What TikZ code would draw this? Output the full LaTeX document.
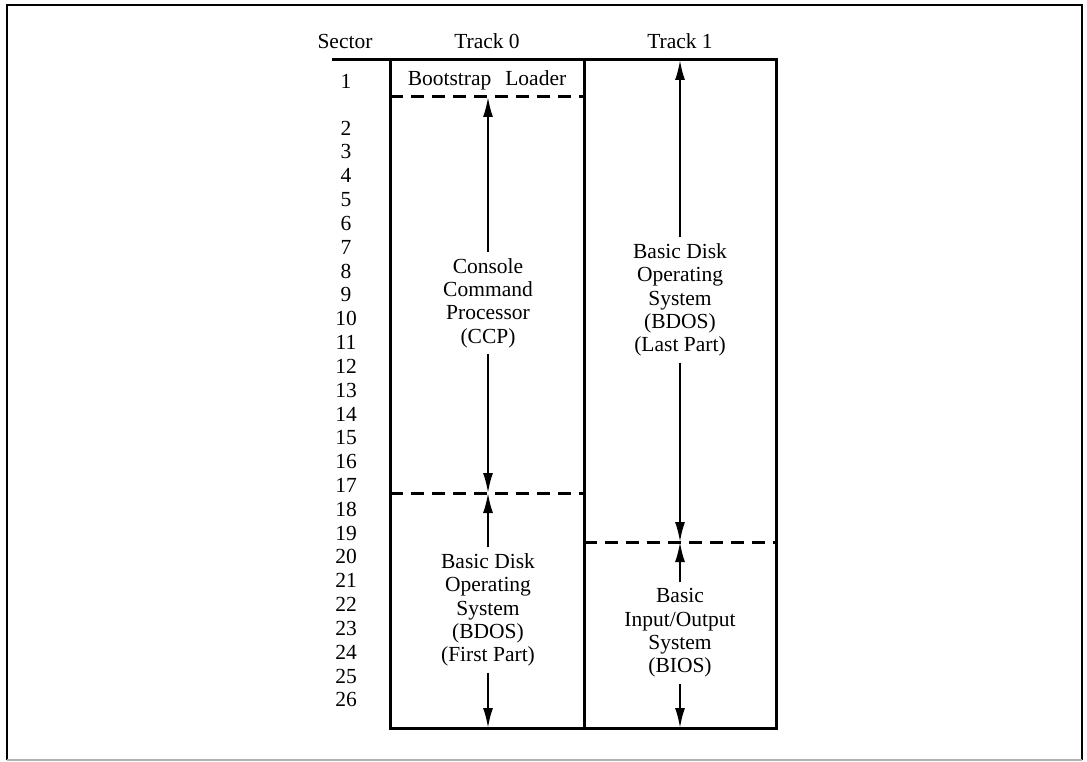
\documentclass[tikz,border=0pt]{standalone}
\usepackage{fontspec}
\setmainfont{Liberation Serif}
\usetikzlibrary{arrows.meta}
\begin{document}
\begin{tikzpicture}[x=1pt,y=-1pt,
  txt/.style={font=\fontsize{21.5}{23.3}\selectfont, align=center, inner sep=0pt, inner ysep=6pt},
  border/.style={line width=3pt, line cap=rect},
  divider/.style={line width=3pt, dash pattern=on 13pt off 8pt},
  span/.style={line width=2pt, -{Latex[length=20pt,width=10pt]}},
  num/.style={font=\fontsize{21.5}{23}\selectfont, inner sep=0pt}]
\useasboundingbox (0,0) rectangle (1087,762);
% outer frame
\draw[line width=2.6pt] (7,760) -- (7,5) -- (1082,5) -- (1082,760);
\draw[line width=2.4pt, black!30] (7,760) -- (1082,760);
% headers
\node[num] (hsec) at (345,41) {Sector};
\node[num] (ht0) at (487,41) {Track 0};
\node[num] (ht1) at (680,41) {Track 1};
% table frame
\draw[border] (333,60) -- (776,60);
\draw[border] (390,60) -- (390,728) -- (776,728) -- (776,60);
\draw[border] (584,60) -- (584,728);
% dashed dividers
\draw[divider] (390,97) -- (584,97);
\draw[divider] (390,493) -- (584,493);
\draw[divider] (584,542) -- (776,542);
% sector numbers
\node[num] (s1) at (346,81) {1};
\foreach \n in {2,...,26}{
  \node[num] (s\n) at (346,{128+(\n-2)*23.83}) {\n};
}
% contents
\node[txt] (boot) at (487,80) {Bootstrap\hspace{0.4em} Loader};
\coordinate (bootb) at (488,97);
\coordinate (ccpb) at (488,493);
\coordinate (t1top) at (680,60);
\coordinate (t1div) at (680,542);
\coordinate (t0bot) at (488,728);
\coordinate (t1bot) at (680,728);
\node[txt] (ccp) at (488,303) {Console\\Command\\Processor\\(CCP)};
\node[txt] (bdos1) at (488,610) {Basic Disk\\Operating\\System\\(BDOS)\\(First Part)};
\node[txt] (bdos2) at (680,300) {Basic Disk\\Operating\\System\\(BDOS)\\(Last Part)};
\node[txt] (bios) at (680,633) {Basic\\Input/Output\\System\\(BIOS)};
\draw[span] (ccp.north) -- (bootb);
\draw[span] (ccp.south) -- (ccpb);
\draw[span] (bdos1.north) -- (ccpb);
\draw[span] (bdos1.south) -- (t0bot);
\draw[span] (bdos2.north) -- (t1top);
\draw[span] (bdos2.south) -- (t1div);
\draw[span] (bios.north) -- (t1div);
\draw[span] (bios.south) -- (t1bot);
\end{tikzpicture}
\end{document}
